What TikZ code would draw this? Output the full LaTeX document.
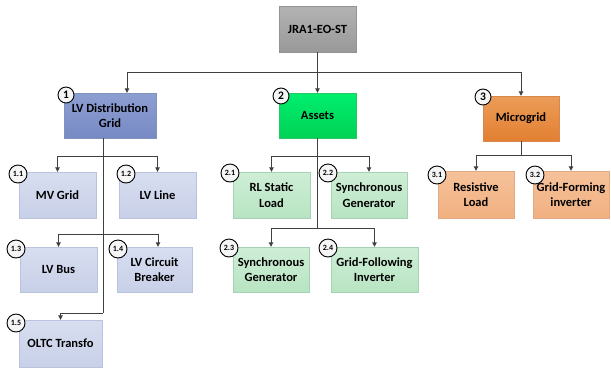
\documentclass[tikz,border=0pt]{standalone}
\usepackage{fontspec}
\setmainfont{Carlito}
\usetikzlibrary{shadows,arrows.meta}
\definecolor{lnc}{HTML}{404040}
\tikzset{
  box/.style={rectangle, inner sep=1pt, align=center, text=black,
    font=\fontsize{12.5}{15.5}\selectfont\bfseries, shading=axis,
    drop shadow={opacity=0.25, shadow xshift=1.2pt, shadow yshift=-1.2pt}},
  topbox/.style={box, top color=gray!60, bottom color=gray!80, draw=gray!85},
  lvdbox/.style={box, top color={rgb,255:red,140;green,158;blue,210}, bottom color={rgb,255:red,120;green,138;blue,196}, draw={rgb,255:red,130;green,145;blue,190}},
  assbox/.style={box, top color={rgb,255:red,0;green,238;blue,110}, bottom color={rgb,255:red,0;green,210;blue,85}, draw={rgb,255:red,40;green,200;blue,100}},
  micbox/.style={box, top color={rgb,255:red,236;green,156;blue,88}, bottom color={rgb,255:red,226;green,128;blue,50}, draw={rgb,255:red,215;green,135;blue,75}},
  blbox/.style={box, top color={rgb,255:red,216;green,222;blue,240}, bottom color={rgb,255:red,200;green,208;blue,232}, draw={rgb,255:red,185;green,195;blue,222}},
  grbox/.style={box, top color={rgb,255:red,206;green,238;blue,214}, bottom color={rgb,255:red,184;green,228;blue,194}, draw={rgb,255:red,165;green,210;blue,178}},
  orbox/.style={box, top color={rgb,255:red,246;green,194;blue,155}, bottom color={rgb,255:red,240;green,176;blue,128}, draw={rgb,255:red,225;green,170;blue,130}},
  badge/.style={circle, draw=black, line width=0.9pt, fill=gray!8, inner sep=0pt,
    minimum size=18pt, font=\fontsize{8}{9}\selectfont\bfseries},
  bigbadge/.style={badge, minimum size=16pt, font=\fontsize{11.5}{12}\selectfont\bfseries},
  ln/.style={draw=lnc, line width=0.9pt},
  arr/.style={ln, -{Triangle[length=4.5pt,width=4.5pt]}},
}
\newcommand{\bx}[7]{% style, name, x0, y0, x1, y1, text
  \node[#1, minimum width={#5-#3}, minimum height={#6-#4}] (#2) at ({(#3+#5)/2},{(#4+#6)/2}) {#7};}
\begin{document}
\begin{tikzpicture}[x=1pt,y=-1pt]
\useasboundingbox (0,0) rectangle (611,368);
% boxes
\bx{topbox}{top}{279}{6}{356}{52}{JRA1-EO-ST}
\bx{lvdbox}{lvd}{64}{93}{156}{138}{LV Distribution\\Grid}
\bx{assbox}{ass}{279}{93}{356}{138}{Assets}
\bx{micbox}{mic}{483}{96}{559}{141}{Microgrid}
\bx{blbox}{n11}{19}{172}{96}{218}{MV Grid}
\bx{blbox}{n12}{119}{172}{196}{218}{LV Line}
\bx{blbox}{n13}{20}{247}{97}{292}{LV Bus}
\bx{blbox}{n14}{117}{247}{192}{292}{LV Circuit\\Breaker}
\bx{blbox}{n15}{19}{320}{102}{367}{OLTC Transfo}
\bx{grbox}{n21}{233}{172}{310}{218}{RL Static\\Load}
\bx{grbox}{n22}{331}{172}{407}{218}{Synchronous\\Generator}
\bx{grbox}{n23}{233}{247}{309}{292}{Synchronous\\Generator}
\bx{grbox}{n24}{331}{247}{418}{292}{Grid-Following\\Inverter}
\bx{orbox}{n31}{438}{171}{514}{218}{Resistive\\Load}
\bx{orbox}{n32}{533}{171}{609}{218}{Grid-Forming\\inverter}
% connectors
\coordinate (jT) at (317.5,72);
\draw[arr] (top.south) -- (ass.north);
\draw[arr] (jT) -| ([xshift=17pt]lvd.north);
\draw[arr] (jT) -| (mic.north);
% LV distribution
\coordinate (l0) at (103,138);
\coordinate (l1) at (103,156);
\coordinate (l2) at (103,234);
\coordinate (l3) at (103,313);
\draw[ln] (l0) -- (l3);
\draw[arr] (l1) -| (n11.north);
\draw[arr] (l1) -| (n12.north);
\draw[arr] (l2) -| (n13.north);
\draw[arr] (l2) -| ([xshift=3.5pt]n14.north);
\draw[arr] (l3) -| (n15.north);
% Assets
\coordinate (a1) at (317.5,156);
\coordinate (a2) at (317.5,228);
\draw[ln] (ass.south) -- (a2);
\draw[arr] (a1) -| (n21.north);
\draw[arr] (a1) -| (n22.north);
\draw[arr] (a2) -| (n23.north);
\draw[arr] (a2) -| (n24.north);
% Microgrid
\coordinate (m1) at (521,155);
\draw[ln] (mic.south) -- (m1);
\draw[arr] (m1) -| (n31.north);
\draw[arr] (m1) -| (n32.north);
% badges
\node[bigbadge] (b1) at (66,95) {1};
\node[bigbadge] (b2) at (281,96) {2};
\node[bigbadge] (b3) at (483,97) {3};
\node[badge] (b11) at (18,174) {1.1};
\node[badge] (b12) at (126,174) {1.2};
\node[badge] (b13) at (16,249) {1.3};
\node[badge] (b14) at (118,249) {1.4};
\node[badge] (b15) at (16,323) {1.5};
\node[badge] (b21) at (230,173) {2.1};
\node[badge] (b22) at (328,173) {2.2};
\node[badge] (b23) at (229,248) {2.3};
\node[badge] (b24) at (328,248) {2.4};
\node[badge] (b31) at (437,175) {3.1};
\node[badge] (b32) at (535,175) {3.2};
\end{tikzpicture}
\end{document}
